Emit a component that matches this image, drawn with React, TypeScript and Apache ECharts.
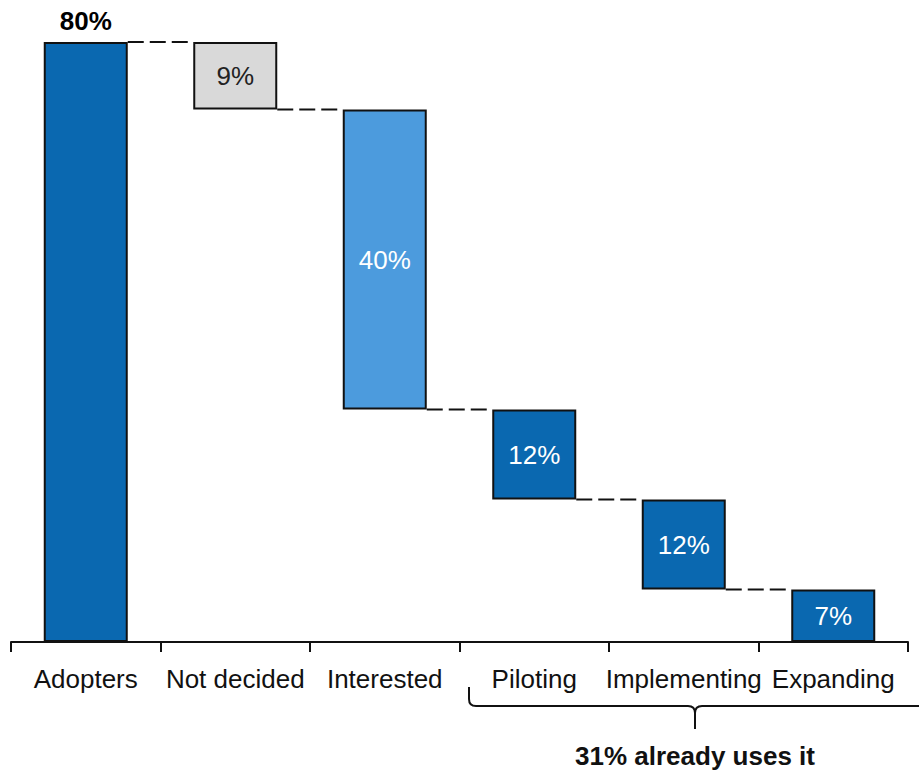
import React, { useEffect, useRef } from "react";
import * as echarts from "echarts";

const categories = ["Adopters", "Not decided", "Interested", "Piloting", "Implementing", "Expanding"];
const values = [80, 9, 40, 12, 12, 7];
const barColors = ["#0A68B0", "#D9D9D9", "#4C9BDD", "#0A68B0", "#0A68B0", "#0A68B0"];
const labelColors = ["#000000", "#222222", "#FFFFFF", "#FFFFFF", "#FFFFFF", "#FFFFFF"];
const bracketText = "31% already uses it";

// bases of the floating bars (waterfall from the total down to 0)
const bases: number[] = values.map((v, i) => {
  if (i === 0) return 0;
  let rest = values[0];
  for (let k = 1; k <= i; k++) rest -= values[k];
  return rest;
});
const tops = values.map((v, i) => bases[i] + v);
const connectors = tops.slice(1).map((t, i) => [i, t]);

const FONT = "'Liberation Sans', Arial, sans-serif";

export default function App() {
  const ref = useRef<HTMLDivElement>(null);
  useEffect(() => {
    document.body.style.margin = "0";
    const bracketPath =
      "M469,687 L469,699 Q469,706 476,706 L688,706 Q695,706 695,713 L695,729 M695,713 Q695,706 702,706 L919,706";
    echarts.graphic.registerShape("bracket", echarts.graphic.extendPath(bracketPath, {}) as any);
    const chart = echarts.init(ref.current!, null, { renderer: "svg" });
    const option: any = {
      animation: false,
      grid: { left: 11, right: 11, top: 42, bottom: 128, containLabel: false },
      xAxis: {
        type: "category",
        data: categories,
        axisLine: { lineStyle: { color: "#111", width: 2 } },
        axisTick: { show: true, length: 10, lineStyle: { color: "#111", width: 2 } },
        axisLabel: { interval: 0, hideOverlap: false, margin: 24, color: "#111", fontSize: 26, fontFamily: FONT },
        splitLine: { show: false },
      },
      yAxis: { type: "value", min: 0, max: 80, show: false, splitLine: { show: false } },
      series: [
        {
          type: "custom",
          z: 1,
          data: connectors,
          encode: { x: 0, y: 1 },
          renderItem: (params: any, api: any) => {
            const i = api.value(0);
            const lvl = api.value(1);
            const a = api.coord([i, lvl]);
            const b = api.coord([i + 1, lvl]);
            const half = 42;
            return {
              type: "line",
              shape: { x1: a[0] + half, y1: a[1], x2: b[0] - half, y2: b[1] },
              style: { stroke: "#111", lineWidth: 2, lineDash: [16, 6] },
            };
          },
        },
        {
          type: "bar",
          stack: "w",
          barWidth: 84,
          itemStyle: { color: "transparent", borderWidth: 0 },
          emphasis: { disabled: true },
          data: bases,
          z: 2,
        },
        {
          type: "bar",
          stack: "w",
          barWidth: 84,
          z: 3,
          emphasis: { disabled: true },
          data: values.map((v, i) => ({
            value: v,
            itemStyle: { color: barColors[i], borderColor: "#111", borderWidth: 2 },
            label: {
              show: true,
              position: i === 0 ? "top" : "inside",
              distance: 8,
              formatter: v + "%",
              color: labelColors[i],
              fontSize: 26,
              fontWeight: i === 0 ? "bold" : "normal",
              fontFamily: FONT,
            },
          })),
        },
      ],
      graphic: [
        {
          type: "bracket",
          x: 0,
          y: 0,
          style: { fill: "none", stroke: "#111", lineWidth: 2 },
        },
        {
          type: "text",
          x: 695,
          y: 756,
          style: {
            text: bracketText,
            font: "bold 26px " + FONT,
            fill: "#111",
            textAlign: "center",
            textVerticalAlign: "middle",
          },
        },
      ],
    };
    chart.setOption(option);
    return () => chart.dispose();
  }, []);
  return <div ref={ref} style={{ width: 919, height: 770 }} />;
}
